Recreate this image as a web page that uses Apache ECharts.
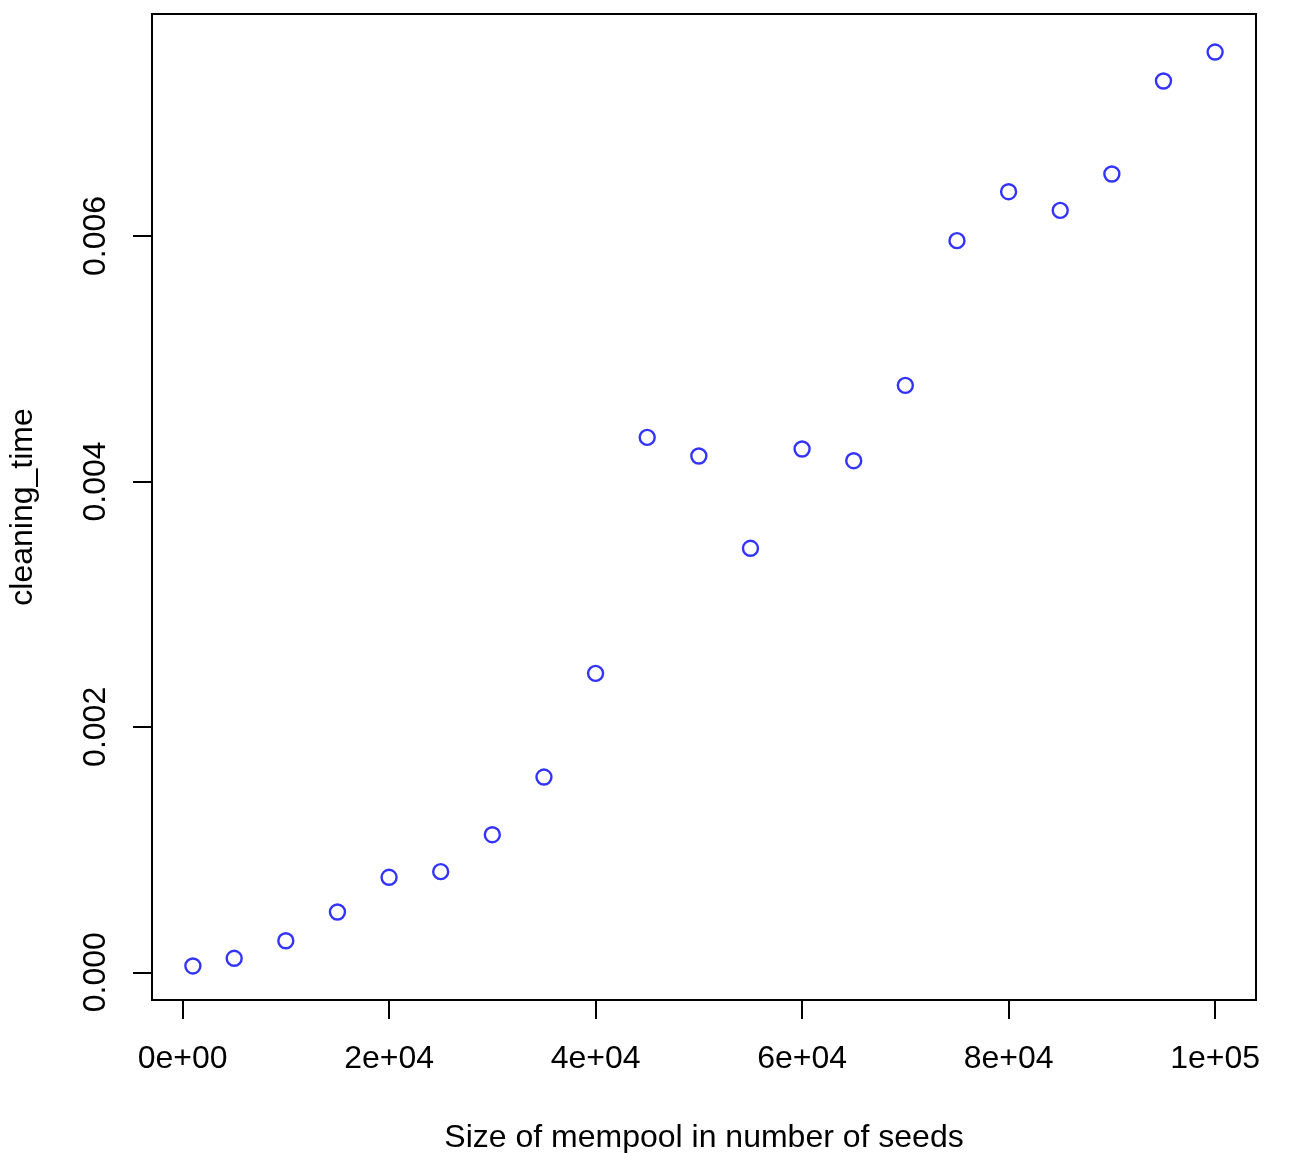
<!DOCTYPE html>
<html>
<head>
<meta charset="utf-8">
<script src="https://cdn.jsdelivr.net/npm/echarts@6/dist/echarts.min.js"></script>
<style>
  html, body { margin: 0; padding: 0; background: #fff; }
  #chart { width: 1292px; height: 1153px; }
</style>
</head>
<body>
<div id="chart"></div>
<script>
// pool sizes (seeds) and measured cleaning time
var poolSize = [1000, 5000, 10000, 15000, 20000, 25000, 30000, 35000, 40000, 45000,
                50000, 55000, 60000, 65000, 70000, 75000, 80000, 85000, 90000, 95000, 100000];
var cleaningTime = [0.0000513, 0.000114, 0.000257, 0.000491, 0.000774, 0.000820, 0.001121,
                    0.001591, 0.002436, 0.004359, 0.004207, 0.003455, 0.004264, 0.004169,
                    0.004783, 0.005962, 0.006361, 0.006209, 0.006505, 0.007263, 0.007499];

var xTicks = [0, 20000, 40000, 60000, 80000, 100000];
var xTickLabels = ['0e+00', '2e+04', '4e+04', '6e+04', '8e+04', '1e+05'];
var yTicks = [0, 0.002, 0.004, 0.006];
var yTickLabels = ['0.000', '0.002', '0.004', '0.006'];

// axis extents (R style, a bit wider than the data)
var xMin = -2960, xMax = 103960;
var yMin = -0.000226, yMax = 0.007809;

function tickLabel(ticks, labels) {
  return function (v) {
    for (var i = 0; i < ticks.length; i++) {
      if (Math.abs(ticks[i] - v) < 1e-9 * (Math.abs(ticks[i]) + 1)) return labels[i];
    }
    return '';
  };
}

var font = 'Liberation Sans, Arial, Helvetica, sans-serif';

var chart = echarts.init(document.getElementById('chart'));
chart.setOption({
  animation: false,
  backgroundColor: '#ffffff',
  grid: {
    left: 152, top: 14, width: 1104, height: 986,
    containLabel: false, outerBoundsMode: 'none',
    show: true, borderColor: '#000', borderWidth: 2, backgroundColor: 'transparent'
  },
  xAxis: {
    type: 'value',
    min: xMin, max: xMax,
    name: 'Size of mempool in number of seeds',
    nameLocation: 'middle',
    nameGap: 122,
    nameTextStyle: { fontFamily: font, fontSize: 32, color: '#000' },
    axisLine: { show: false, onZero: false },
    splitLine: { show: false },
    axisTick: {
      show: true, inside: false, length: 19, customValues: xTicks,
      lineStyle: { color: '#000', width: 2 }
    },
    axisLabel: {
      show: true, customValues: xTicks, margin: 43,
      fontFamily: font, fontSize: 32, color: '#000',
      formatter: tickLabel(xTicks, xTickLabels)
    }
  },
  yAxis: {
    type: 'value',
    min: yMin, max: yMax,
    name: 'cleaning_time',
    nameLocation: 'middle',
    nameGap: 113,
    nameTextStyle: { fontFamily: font, fontSize: 32, color: '#000' },
    axisLine: { show: false, onZero: false },
    splitLine: { show: false },
    axisTick: {
      show: true, inside: false, length: 19, customValues: yTicks,
      lineStyle: { color: '#000', width: 2 }
    },
    axisLabel: {
      show: true, customValues: yTicks, margin: 40, rotate: 90,
      fontFamily: font, fontSize: 32, color: '#000',
      formatter: tickLabel(yTicks, yTickLabels)
    }
  },
  series: [{
    type: 'scatter',
    data: poolSize.map(function (x, i) { return [x, cleaningTime[i]]; }),
    symbol: 'circle',
    symbolSize: 15,
    itemStyle: { color: 'rgba(0,0,0,0)', borderColor: '#0000ff', borderWidth: 2.4 },
    emphasis: { disabled: true },
    silent: true
  }]
});
</script>
</body>
</html>
